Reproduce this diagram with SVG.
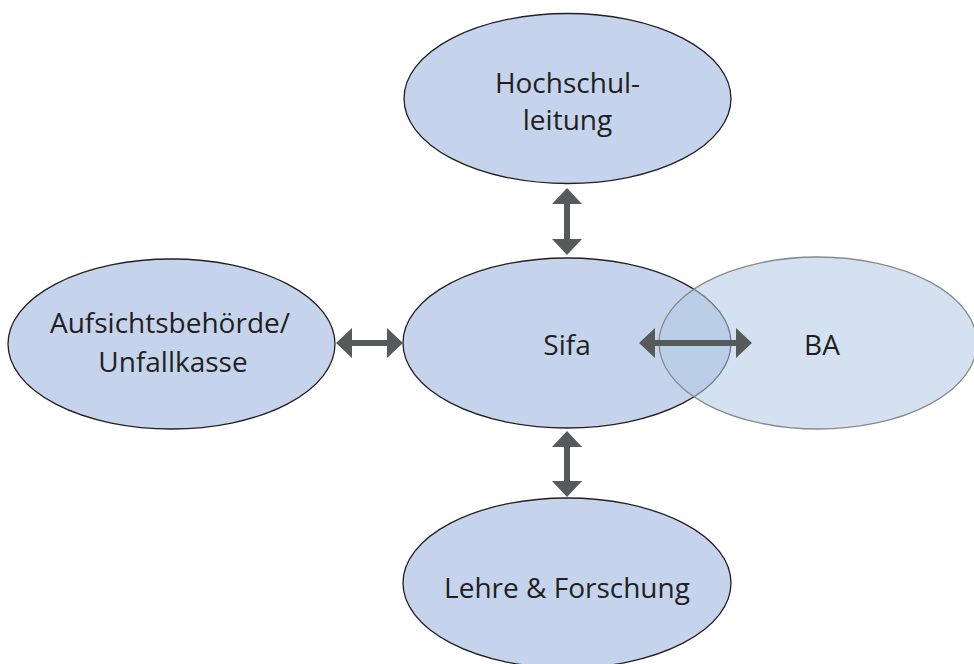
<svg xmlns="http://www.w3.org/2000/svg" width="974" height="664" viewBox="0 0 974 664">
<defs>
<style>
.node{fill:#c5d4ec;stroke:#231f20;stroke-width:1.3}
.ba{fill:#b0c8e6;fill-opacity:0.55;stroke:#8a8a8a;stroke-width:1.3}
.lbl{font-family:"Open Sans","Noto Sans","Liberation Sans",sans-serif;font-size:28px;fill:#231f20;text-anchor:middle}
.arr{fill:#58595b}
</style>
</defs>
<rect width="974" height="664" fill="#ffffff"/>
<g id="node-hochschulleitung">
<ellipse class="node" cx="567.5" cy="98.5" rx="163.5" ry="85"/>
<text class="lbl" x="567.5" y="93">Hochschul-</text>
<text class="lbl" x="567.5" y="130">leitung</text>
</g>
<g id="node-aufsicht">
<ellipse class="node" cx="171.5" cy="344" rx="163.5" ry="85"/>
<text class="lbl" x="170" y="333">Aufsichtsbehörde/</text>
<text class="lbl" x="173" y="372">Unfallkasse</text>
</g>
<g id="node-sifa">
<ellipse class="node" cx="567" cy="343" rx="164" ry="85"/>
<text class="lbl" x="567" y="355">Sifa</text>
</g>
<g id="node-lehre">
<ellipse class="node" cx="567" cy="583" rx="164" ry="85"/>
<text class="lbl" x="567" y="598">Lehre &amp; Forschung</text>
</g>
<g id="node-ba">
<ellipse class="ba" cx="818" cy="343" rx="159" ry="86"/>
<text class="lbl" x="822" y="355">BA</text>
</g>
<g id="connectors">
<path class="arr" d="M567,188 L582,204 L570,204 L570,239 L582,239 L567,255 L552,239 L564,239 L564,204 L552,204 Z"/>
<path class="arr" d="M567,431 L582,447 L570,447 L570,481 L582,481 L567,497 L552,481 L564,481 L564,447 L552,447 Z"/>
<path class="arr" d="M336,343 L352,328 L352,340 L387,340 L387,328 L403,343 L387,358 L387,346 L352,346 L352,358 Z"/>
<path class="arr" d="M639,343 L655,328 L655,340 L736,340 L736,328 L752,343 L736,358 L736,346 L655,346 L655,358 Z"/>
</g>
</svg>
